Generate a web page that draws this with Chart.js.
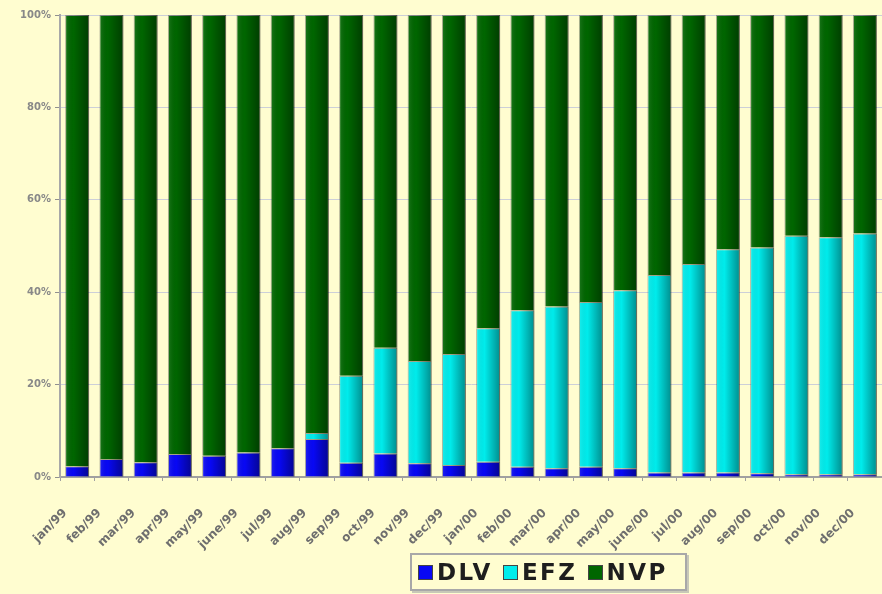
<!DOCTYPE html>
<html lang="en">
<head>
  <meta charset="UTF-8" />
  <title>DLV / EFZ / NVP</title>
  <script src="https://cdn.jsdelivr.net/npm/chart.js"></script>
  <style>
    html, body {
      margin: 0;
      padding: 0;
      background-color: #fffdd0;
    }

    .wrap {
      position: relative;
      width: 882px;
      height: 594px;
      overflow: hidden;
    }

    #legend {
      position: absolute;
      left: 410px;
      top: 553px;
      width: 277px;
      height: 38px;
      box-sizing: border-box;
      border: 2px solid #a8a8a8;
      box-shadow: 2px 2px 0 #c8c8b8;
      background-color: #fffdd0;
      display: flex;
      align-items: center;
      padding-left: 6px;
      gap: 10px;
      font-family: 'DejaVu Sans', sans-serif;
      font-weight: bold;
      font-size: 23px;
      letter-spacing: 2.5px;
      color: #1e1e1e;
    }

    #legend span.item {
      display: flex;
      align-items: center;
      gap: 4px;
    }

    #legend span.box {
      display: inline-block;
      width: 13px;
      height: 13px;
      border: 1px solid #444;
    }
  </style>
</head>
<body>
  <div class="wrap">
    <canvas id="chart" width="882" height="594"></canvas>
    <div id="legend"></div>
  </div>

  <script>
    const months = ['jan/99', 'feb/99', 'mar/99', 'apr/99', 'may/99', 'june/99', 'jul/99', 'aug/99',
      'sep/99', 'oct/99', 'nov/99', 'dec/99', 'jan/00', 'feb/00', 'mar/00', 'apr/00', 'may/00',
      'june/00', 'jul/00', 'aug/00', 'sep/00', 'oct/00', 'nov/00', 'dec/00'];

    // shares in percent
    const dlv = [2.3, 3.9, 3.2, 5.0, 4.6, 5.3, 6.2, 8.2, 3.1, 5.1, 3.0, 2.6,
      3.3, 2.2, 1.9, 2.2, 1.9, 1.0, 1.0, 1.0, 0.8, 0.6, 0.6, 0.6];
    const efz = [0, 0, 0, 0, 0, 0, 0, 1.3, 18.8, 22.9, 22.1, 24.0,
      28.9, 33.9, 35.0, 35.7, 38.5, 42.7, 45.1, 48.3, 48.9, 51.6, 51.3, 52.1];
    const nvp = [97.7, 96.1, 96.8, 95.0, 95.4, 94.7, 93.8, 90.5, 78.1, 72.0, 74.9, 73.4,
      67.8, 63.9, 63.1, 62.1, 59.6, 56.3, 53.9, 50.7, 50.3, 47.8, 48.1, 47.3];

    const yTicks = [0, 20, 40, 60, 80, 100];

    const series = [
      { label: 'DLV', data: dlv, color: '#0808f4' },
      { label: 'EFZ', data: efz, color: '#00ecec' },
      { label: 'NVP', data: nvp, color: '#006600' }
    ];

    // darker right side on every bar, like the old 3D-ish office charts
    const shadePlugin = {
      id: 'shade',
      afterDatasetsDraw(chart) {
        const ctx = chart.ctx;
        chart.data.datasets.forEach((ds, i) => {
          const meta = chart.getDatasetMeta(i);
          meta.data.forEach(bar => {
            const { x, y, base, width } = bar.getProps(['x', 'y', 'base', 'width'], true);
            if (Math.abs(base - y) < 0.5) return;
            const left = x - width / 2;
            const g = ctx.createLinearGradient(left, 0, left + width, 0);
            g.addColorStop(0, 'rgba(255,255,255,0.12)');
            g.addColorStop(0.35, 'rgba(0,0,0,0)');
            g.addColorStop(1, 'rgba(0,0,0,0.4)');
            ctx.save();
            ctx.fillStyle = g;
            ctx.fillRect(left, Math.min(y, base), width, Math.abs(base - y));
            ctx.restore();
          });
        });
      }
    };

    const ctx = document.getElementById('chart').getContext('2d');
    new Chart(ctx, {
      type: 'bar',
      data: {
        labels: months,
        datasets: series.map(s => ({
          label: s.label,
          data: s.data,
          backgroundColor: s.color,
          borderColor: 'rgba(0,0,0,0.35)',
          borderWidth: 1,
          barPercentage: 0.7,
          categoryPercentage: 1
        }))
      },
      options: {
        responsive: false,
        animation: false,
        layout: { padding: { top: 15, right: 0, left: 0, bottom: 0 } },
        plugins: {
          legend: { display: false },
          tooltip: { enabled: false }
        },
        scales: {
          x: {
            stacked: true,
            afterFit(scale) {
              scale.height = 117;
              // rotated labels hang to the left, no need for side padding
              scale.paddingLeft = 0;
              scale.paddingRight = 0;
            },
            grid: {
              display: true,
              drawOnChartArea: false,
              tickLength: 4,
              color: '#a0a0a0'
            },
            border: { color: '#a0a0a0', width: 2 },
            ticks: {
              autoSkip: false,
              maxRotation: 45,
              minRotation: 45,
              padding: 25,
              labelOffset: -12,
              color: '#6e6e6e',
              font: { family: 'DejaVu Sans', size: 12, weight: 'bold' }
            }
          },
          y: {
            stacked: true,
            min: 0,
            max: 100,
            afterFit(scale) { scale.width = 60; },
            afterBuildTicks(scale) { scale.ticks = yTicks.map(v => ({ value: v })); },
            grid: {
              color: '#cccfd8',
              tickLength: 5,
              tickColor: '#909090'
            },
            border: { color: '#a8a8a8', width: 2 },
            ticks: {
              padding: 4,
              color: '#888888',
              font: { family: 'DejaVu Sans', size: 10, weight: 'bold' },
              callback: v => v + '%'
            }
          }
        }
      },
      plugins: [shadePlugin]
    });

    const legend = document.getElementById('legend');
    series.forEach(s => {
      const item = document.createElement('span');
      item.className = 'item';
      const box = document.createElement('span');
      box.className = 'box';
      box.style.backgroundColor = s.color;
      const text = document.createElement('span');
      text.textContent = s.label;
      item.appendChild(box);
      item.appendChild(text);
      legend.appendChild(item);
    });
  </script>
</body>
</html>
